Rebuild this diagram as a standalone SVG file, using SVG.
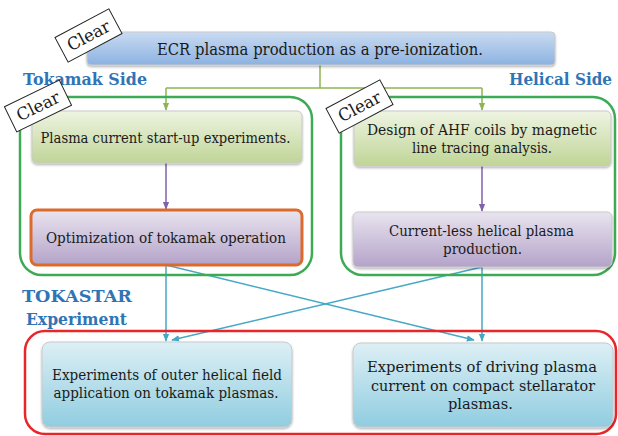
<svg xmlns="http://www.w3.org/2000/svg" width="618" height="436" viewBox="0 0 618 436">
<defs>
<linearGradient id="gBlue" x1="0" y1="0" x2="0" y2="1"><stop offset="0" stop-color="#c9dbf2"/><stop offset="1" stop-color="#8cb2e0"/></linearGradient>
<linearGradient id="gGreen" x1="0" y1="0" x2="0" y2="1"><stop offset="0" stop-color="#eef4e2"/><stop offset="1" stop-color="#c0d597"/></linearGradient>
<linearGradient id="gPurple" x1="0" y1="0" x2="0" y2="1"><stop offset="0" stop-color="#e9e4ef"/><stop offset="1" stop-color="#b4a3c9"/></linearGradient>
<linearGradient id="gCyan" x1="0" y1="0" x2="0" y2="1"><stop offset="0" stop-color="#ddeff5"/><stop offset="1" stop-color="#90cde0"/></linearGradient>
<marker id="ahG" viewBox="0 0 10 10" refX="9" refY="5" markerWidth="8" markerHeight="8" markerUnits="userSpaceOnUse" orient="auto"><path d="M0,1 L10,5 L0,9 Z" fill="#8fb552"/></marker>
<marker id="ahP" viewBox="0 0 10 10" refX="9" refY="5" markerWidth="8" markerHeight="8" markerUnits="userSpaceOnUse" orient="auto"><path d="M0,1 L10,5 L0,9 Z" fill="#7f62a8"/></marker>
<marker id="ahC" viewBox="0 0 10 10" refX="9" refY="5" markerWidth="8" markerHeight="8" markerUnits="userSpaceOnUse" orient="auto"><path d="M0,1 L10,5 L0,9 Z" fill="#46a8c4"/></marker>
<filter id="sh" x="-5%" y="-5%" width="110%" height="120%"><feDropShadow dx="0" dy="1.5" stdDeviation="1" flood-color="#000" flood-opacity="0.3"/></filter>
</defs>
<style>
text{font-family:'DejaVu Serif','Liberation Serif',serif;}
.t{font-size:15px;text-anchor:middle;fill:#1a1a1a;}
.big{font-size:15.5px;}
.h{font-size:16.5px;font-weight:bold;fill:#2f75b5;}
.tag rect{fill:#fff;stroke:#222;stroke-width:1;}
.tag text{font-size:17px;text-anchor:middle;fill:#1a1a1a;}
.box{stroke:#c9c9c9;stroke-width:1;filter:url(#sh);}
.cont{fill:none;stroke-width:2.5;}
.lg{stroke:#8fb552;stroke-width:1.5;}
.lp{stroke:#7f62a8;stroke-width:1.5;}
.lc{stroke:#46a8c4;stroke-width:1.5;}
</style>

<g id="connectors" fill="none">
<path class="lg" d="M320,65 V88 M166,88 H482"/>
<path class="lg" d="M166,88 V110" marker-end="url(#ahG)"/>
<path class="lg" d="M482,88 V110" marker-end="url(#ahG)"/>
<path class="lp" d="M166,163 V209" marker-end="url(#ahP)"/>
<path class="lp" d="M482,166 V211" marker-end="url(#ahP)"/>
<path class="lc" d="M166,265 V341" marker-end="url(#ahC)"/>
<path class="lc" d="M482,267 V341" marker-end="url(#ahC)"/>
<path class="lc" d="M166,265 L474,340" marker-end="url(#ahC)"/>
<path class="lc" d="M482,267 L172,340" marker-end="url(#ahC)"/>
</g>

<g id="containers">
<rect id="tokamak-side" x="20" y="97" width="292" height="178" rx="22" class="cont" stroke="#3daa55"/>
<rect id="helical-side" x="341" y="97" width="274" height="178" rx="22" class="cont" stroke="#3daa55"/>
<rect id="tokastar" x="25" y="331" width="591" height="103" rx="20" class="cont" stroke="#e8262a"/>
</g>

<g id="labels">
<text class="h" x="23" y="85" textLength="124" lengthAdjust="spacingAndGlyphs">Tokamak Side</text>
<text class="h" x="612" y="85" text-anchor="end" textLength="103" lengthAdjust="spacingAndGlyphs">Helical Side</text>
<text class="h" x="22" y="302" textLength="110" lengthAdjust="spacingAndGlyphs">TOKASTAR</text>
<text class="h" x="26" y="325" textLength="101" lengthAdjust="spacingAndGlyphs">Experiment</text>
</g>

<g id="ecr">
<rect x="87" y="32" width="468" height="33" rx="4" fill="url(#gBlue)" class="box"/>
<text class="t" x="320" y="55" style="font-size:16px" textLength="326" lengthAdjust="spacingAndGlyphs">ECR plasma production as a pre-ionization.</text>
</g>

<g id="startup">
<rect x="32" y="111" width="270" height="52" rx="5" fill="url(#gGreen)" class="box"/>
<text class="t" x="165.5" y="143" textLength="250" lengthAdjust="spacingAndGlyphs">Plasma current start-up experiments.</text>
</g>

<g id="optimization">
<rect x="31" y="210" width="271" height="55" rx="6" fill="url(#gPurple)" stroke="#dc6a2c" stroke-width="3"/>
<text class="t" x="166" y="243" textLength="240" lengthAdjust="spacingAndGlyphs">Optimization of tokamak operation</text>
</g>

<g id="ahf">
<rect x="354" y="111" width="257" height="55" rx="5" fill="url(#gGreen)" class="box"/>
<text class="t" x="482" y="135" textLength="230" lengthAdjust="spacingAndGlyphs">Design of AHF coils by magnetic</text>
<text class="t" x="482" y="153" textLength="140" lengthAdjust="spacingAndGlyphs">line tracing analysis.</text>
</g>

<g id="currentless">
<rect x="353" y="212" width="259" height="55" rx="5" fill="url(#gPurple)" class="box"/>
<text class="t" x="481.5" y="236" textLength="185" lengthAdjust="spacingAndGlyphs">Current-less helical plasma</text>
<text class="t" x="482.5" y="254" textLength="79" lengthAdjust="spacingAndGlyphs">production.</text>
</g>

<g id="outer-helical">
<rect x="42" y="342" width="250" height="85" rx="8" fill="url(#gCyan)" class="box"/>
<text class="t" x="167" y="380" textLength="230" lengthAdjust="spacingAndGlyphs">Experiments of outer helical field</text>
<text class="t" x="166" y="398" textLength="225" lengthAdjust="spacingAndGlyphs">application on tokamak plasmas.</text>
</g>

<g id="driving">
<rect x="353" y="343" width="260" height="84" rx="8" fill="url(#gCyan)" class="box"/>
<text class="t big" x="482" y="372" textLength="230" lengthAdjust="spacingAndGlyphs">Experiments of driving plasma</text>
<text class="t big" x="483" y="391" textLength="224" lengthAdjust="spacingAndGlyphs">current on compact stellarator</text>
<text class="t big" x="480.5" y="409" textLength="65" lengthAdjust="spacingAndGlyphs">plasmas.</text>
</g>

<g id="tag-top" class="tag" transform="translate(88.5,35.5) rotate(-28)">
<rect x="-30.5" y="-14" width="61" height="28"/>
<text x="0" y="6" textLength="46" lengthAdjust="spacingAndGlyphs">Clear</text>
</g>
<g id="tag-left" class="tag" transform="translate(38,106) rotate(-26)">
<rect x="-30.5" y="-14" width="61" height="28"/>
<text x="0" y="6" textLength="46" lengthAdjust="spacingAndGlyphs">Clear</text>
</g>
<g id="tag-right" class="tag" transform="translate(359.5,106.5) rotate(-28)">
<rect x="-30.5" y="-14" width="61" height="28"/>
<text x="0" y="6" textLength="46" lengthAdjust="spacingAndGlyphs">Clear</text>
</g>
</svg>
